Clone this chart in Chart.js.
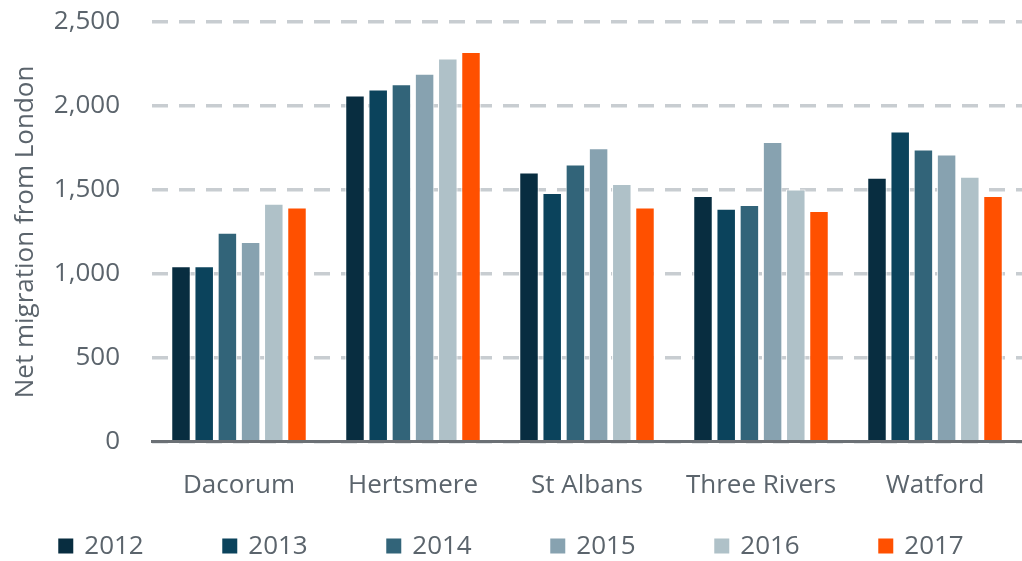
<!DOCTYPE html>
<html>
<head>
<meta charset="utf-8">
<script src="https://cdn.jsdelivr.net/npm/chart.js@4.4.1/dist/chart.umd.min.js"></script>
<style>
  html, body { margin: 0; padding: 0; background: #fff; }
  #wrap { width: 1022px; height: 561px; }
</style>
</head>
<body>
<div id="wrap"><canvas id="migrationChart" width="1022" height="561"></canvas></div>
<script>
// districts along the x axis
const categories = ['Dacorum', 'Hertsmere', 'St Albans', 'Three Rivers', 'Watford'];
const years = ['2012', '2013', '2014', '2015', '2016', '2017'];

// net migration from London, one array per year
const values2012 = [1045, 2063, 1603, 1464, 1573];
const values2013 = [1045, 2098, 1482, 1388, 1848];
const values2014 = [1245, 2130, 1651, 1410, 1740];
const values2015 = [1190, 2192, 1748, 1786, 1711];
const values2016 = [1418, 2282, 1535, 1502, 1579];
const values2017 = [1396, 2321, 1396, 1374, 1464];

const yTicks = [0, 500, 1000, 1500, 2000, 2500];

const colours = ['#082d40', '#0b435c', '#326479', '#87a2b0', '#afc1c8', '#ff5000'];
const textColour = '#5b646c';
const fontFamily = 'Open Sans';

const series = [values2012, values2013, values2014, values2015, values2016, values2017];

const data = {
  labels: categories,
  datasets: series.map((vals, i) => ({
    label: years[i],
    data: vals,
    backgroundColor: colours[i],
    borderColor: '#ffffff',
    borderWidth: 1,
    categoryPercentage: 0.8,
    barPercentage: 0.84,
  })),
};

// legend row drawn along the bottom, spaced like the original
const bottomLegend = {
  id: 'bottomLegend',
  afterDraw(chart) {
    const c = chart.ctx;
    const sets = chart.data.datasets;
    const step = 164;
    const box = 15;
    c.save();
    c.font = '26px "' + fontFamily + '"';
    c.textBaseline = 'middle';
    const lastW = box + 11 + c.measureText(sets[sets.length - 1].label).width;
    const total = step * (sets.length - 1) + lastW;
    let x = (chart.width - total) / 2;
    const y = 546;
    sets.forEach((ds) => {
      c.fillStyle = ds.backgroundColor;
      c.fillRect(x, y - box / 2, box, box);
      c.fillStyle = textColour;
      c.fillText(ds.label, x + box + 11, y + 1);
      x += step;
    });
    c.restore();
  },
};

const config = {
  type: 'bar',
  data: data,
  options: {
    responsive: false,
    animation: false,
    layout: { autoPadding: false, padding: { left: 4, right: -8, top: 22, bottom: 40 } },
    plugins: {
      tooltip: { enabled: false },
      legend: { display: false },
    },
    scales: {
      x: {
        grid: { display: false },
        border: { display: true, color: '#6b7075', width: 3 },
        ticks: {
          color: textColour,
          padding: 20,
          font: { family: fontFamily, size: 26 },
        },
        afterFit: (axis) => { axis.paddingLeft = 0; axis.paddingRight = 0; },
      },
      y: {
        min: 0,
        max: 2500,
        afterBuildTicks: (axis) => { axis.ticks = yTicks.map(v => ({ value: v })); },
        afterFit: (axis) => { axis.width = 148; axis.paddingTop = 0; axis.paddingBottom = 0; },
        border: { display: false, dash: [16, 11] },
        grid: {
          color: '#c8cdd1',
          lineWidth: 3.5,
          drawTicks: false,
        },
        ticks: {
          color: textColour,
          padding: 32,
          font: { family: fontFamily, size: 26 },
          callback: (v) => v.toLocaleString('en-GB'),
        },
        title: {
          display: true,
          text: 'Net migration from London',
          color: textColour,
          padding: { top: 6, bottom: 0 },
          font: { family: fontFamily, size: 26 },
        },
      },
    },
  },
  plugins: [bottomLegend],
};

const ctx = document.getElementById('migrationChart');
new Chart(ctx, config);
</script>
</body>
</html>
